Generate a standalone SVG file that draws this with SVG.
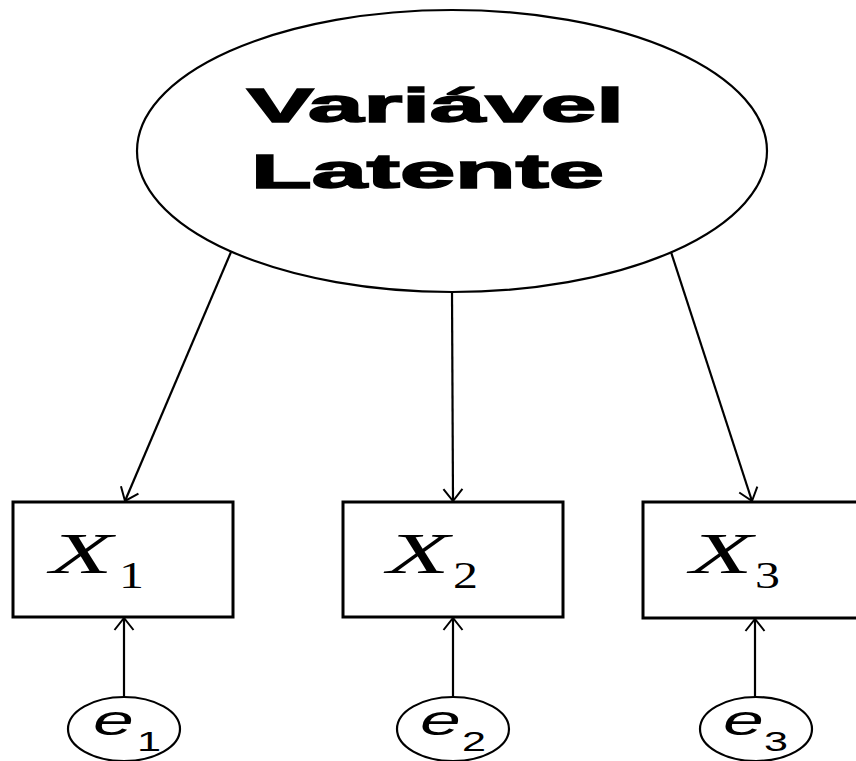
<svg xmlns="http://www.w3.org/2000/svg" width="856" height="761" viewBox="0 0 856 761">
  <defs>
    <style>
      .shape { fill: #fff; stroke: #000; stroke-width: 2.2; }
      .box { fill: #fff; stroke: #000; stroke-width: 3; }
      .edge { fill: none; stroke: #000; stroke-width: 2.2; }
      .title { font-family: "Liberation Sans", Arial, sans-serif; font-weight: bold; font-size: 49px; fill: #000; stroke: #000; stroke-width: 1.6; }
      .var { font-family: "Liberation Serif", "Times New Roman", serif; font-style: italic; font-size: 57px; fill: #000; }
      .sub { font-family: "Liberation Serif", "Times New Roman", serif; font-size: 37px; fill: #000; }
      .err { font-family: "Liberation Sans", Arial, sans-serif; font-style: italic; font-size: 42px; fill: #000; }
      .errsub { font-family: "Liberation Sans", Arial, sans-serif; font-size: 27px; fill: #000; }
    </style>
    <marker id="arrow" viewBox="0 0 14 22" refX="13" refY="11" markerWidth="14" markerHeight="22" markerUnits="userSpaceOnUse" orient="auto">
      <path d="M1,1.5 L13,11 L1,20.5" fill="none" stroke="#000" stroke-width="2"/>
    </marker>
  </defs>
  <rect width="856" height="761" fill="#fff"/>

  <!-- connectors -->
  <g id="connectors">
    <line class="edge" x1="231" y1="252" x2="125" y2="501" marker-end="url(#arrow)"/>
    <line class="edge" x1="452" y1="292" x2="453" y2="501" marker-end="url(#arrow)"/>
    <line class="edge" x1="671" y1="252" x2="752" y2="501" marker-end="url(#arrow)"/>
    <line class="edge" x1="124" y1="697" x2="124" y2="618" marker-end="url(#arrow)"/>
    <line class="edge" x1="453" y1="697" x2="453" y2="618" marker-end="url(#arrow)"/>
    <line class="edge" x1="755" y1="697" x2="755" y2="619" marker-end="url(#arrow)"/>
  </g>

  <!-- latent variable -->
  <g id="latent">
    <ellipse class="shape" cx="452" cy="151" rx="315" ry="141"/>
    <text class="title" x="247" y="122" textLength="377" lengthAdjust="spacingAndGlyphs">Variável</text>
    <text class="title" x="251" y="188" textLength="353" lengthAdjust="spacingAndGlyphs">Latente</text>
  </g>

  <!-- observed indicators -->
  <g id="x1">
    <rect class="box" x="13" y="502" width="220" height="115"/>
    <text class="var" transform="translate(50,573) scale(1.8,1)">X</text>
    <text class="sub" transform="translate(119,588) scale(1.35,1)">1</text>
  </g>
  <g id="x2">
    <rect class="box" x="343" y="502" width="220" height="115"/>
    <text class="var" transform="translate(387,573) scale(1.8,1)">X</text>
    <text class="sub" transform="translate(453,588) scale(1.35,1)">2</text>
  </g>
  <g id="x3">
    <rect class="box" x="643" y="502" width="230" height="116"/>
    <text class="var" transform="translate(690,573) scale(1.8,1)">X</text>
    <text class="sub" transform="translate(755,588) scale(1.35,1)">3</text>
  </g>

  <!-- error terms -->
  <g id="e1">
    <ellipse class="shape" cx="124" cy="729" rx="56" ry="32"/>
    <text class="err" transform="translate(93,735) scale(1.75,1)">e</text>
    <text class="errsub" transform="translate(137,751) scale(1.6,1)">1</text>
  </g>
  <g id="e2">
    <ellipse class="shape" cx="453" cy="729" rx="56" ry="32"/>
    <text class="err" transform="translate(420,735) scale(1.75,1)">e</text>
    <text class="errsub" transform="translate(462,751) scale(1.6,1)">2</text>
  </g>
  <g id="e3">
    <ellipse class="shape" cx="756" cy="729" rx="56" ry="32"/>
    <text class="err" transform="translate(723,735) scale(1.75,1)">e</text>
    <text class="errsub" transform="translate(764,751) scale(1.6,1)">3</text>
  </g>
</svg>
